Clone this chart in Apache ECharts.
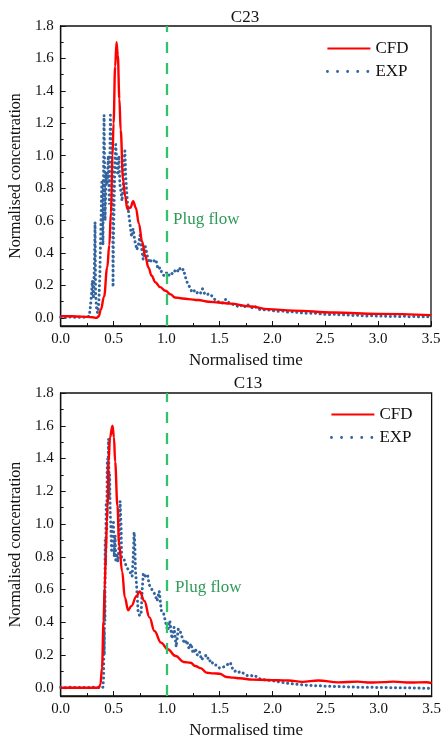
<!DOCTYPE html>
<html>
<head>
<meta charset="utf-8">
<script src="https://cdn.jsdelivr.net/npm/echarts@6/dist/echarts.min.js"></script>
<style>
  html, body { margin: 0; padding: 0; background: #fff; }
  #chart { width: 444px; height: 740px; }
</style>
</head>
<body>
<div id="chart"></div>
<script>
// tick values
var yMajor = [0, 0.2, 0.4, 0.6, 0.8, 1.0, 1.2, 1.4, 1.6, 1.8];
var yMinor = [0.1, 0.3, 0.5, 0.7, 0.9, 1.1, 1.3, 1.5, 1.7];
var plugFlow = 1.0;

// C23 - CFD
var cfdTimeC23 = [0, 0.1, 0.2, 0.3, 0.34, 0.36, 0.38, 0.41, 0.44, 0.46, 0.475, 0.49, 0.50, 0.515, 0.528, 0.54, 0.555, 0.567, 0.59, 0.61, 0.63, 0.66, 0.685, 0.71, 0.74, 0.77, 0.80, 0.83, 0.86, 0.894, 0.94, 0.99, 1.04, 1.08, 1.15, 1.21, 1.3, 1.4, 1.49, 1.6, 1.8, 1.96, 2.2, 2.58, 3.0, 3.5];
var cfdC23     = [0.01, 0.01, 0.008, 0.004, 0.0, 0.01, 0.05, 0.13, 0.31, 0.45, 0.65, 1.0, 1.2, 1.55, 1.70, 1.62, 1.35, 1.16, 0.85, 0.75, 0.67, 0.68, 0.72, 0.68, 0.58, 0.47, 0.38, 0.31, 0.26, 0.22, 0.19, 0.167, 0.145, 0.126, 0.12, 0.116, 0.11, 0.10, 0.095, 0.088, 0.07, 0.054, 0.045, 0.033, 0.025, 0.017];

// C23 - EXP
var expTimeC23 = [0.00, 0.05, 0.10, 0.15, 0.20, 0.24, 0.27, 0.28, 0.29, 0.30, 0.31, 0.32, 0.325, 0.33, 0.335, 0.34, 0.35, 0.36, 0.37, 0.38, 0.39, 0.40, 0.41, 0.415, 0.42, 0.43, 0.44, 0.45, 0.46, 0.47, 0.48, 0.49, 0.495, 0.50, 0.51, 0.52, 0.53, 0.54, 0.55, 0.56, 0.57, 0.58, 0.59, 0.60, 0.607, 0.615, 0.63, 0.64, 0.655, 0.67, 0.685, 0.70, 0.72, 0.735, 0.75, 0.765, 0.78, 0.79, 0.80, 0.82, 0.84, 0.86, 0.88, 0.90, 0.92, 0.94, 0.96, 0.98, 1.00, 1.02, 1.04, 1.06, 1.08, 1.10, 1.12, 1.14, 1.16, 1.18, 1.20, 1.22, 1.24, 1.26, 1.28, 1.30, 1.32, 1.34, 1.36, 1.38, 1.40, 1.42, 1.44, 1.46, 1.48, 1.50, 1.52, 1.54, 1.56, 1.58, 1.60, 1.62, 1.64, 1.66, 1.68, 1.70, 1.72, 1.74, 1.76, 1.78, 1.80, 1.82, 1.84, 1.86, 1.90, 1.95, 2.00, 2.05, 2.10, 2.15, 2.20, 2.25, 2.30, 2.35, 2.40, 2.45, 2.50, 2.55, 2.60, 2.65, 2.70, 2.75, 2.80, 2.85, 2.90, 2.95, 3.00, 3.05, 3.10, 3.15, 3.20, 3.25, 3.30, 3.35, 3.40, 3.45, 3.50];
var expC23     = [0.005, 0.002, 0.007, 0.002, 0.006, 0.003, 0.01, 0.06, 0.13, 0.23, 0.12, 0.35, 0.59, 0.15, 0.10, 0.05, 0.03, 0.08, 0.25, 0.55, 0.85, 0.45, 1.25, 0.95, 0.60, 0.90, 0.82, 1.00, 0.70, 1.25, 1.00, 0.92, 0.19, 0.52, 0.85, 1.07, 0.98, 0.88, 1.00, 0.82, 0.78, 0.72, 0.80, 0.97, 1.03, 0.87, 0.72, 0.66, 0.58, 0.50, 0.55, 0.48, 0.42, 0.45, 0.51, 0.43, 0.36, 0.40, 0.44, 0.38, 0.34, 0.36, 0.35, 0.36, 0.30, 0.31, 0.27, 0.26, 0.28, 0.26, 0.28, 0.27, 0.29, 0.28, 0.31, 0.29, 0.30, 0.25, 0.21, 0.19, 0.16, 0.17, 0.15, 0.16, 0.15, 0.18, 0.15, 0.14, 0.15, 0.14, 0.13, 0.11, 0.10, 0.10, 0.09, 0.095, 0.115, 0.10, 0.09, 0.085, 0.08, 0.075, 0.07, 0.08, 0.065, 0.07, 0.085, 0.075, 0.065, 0.06, 0.07, 0.055, 0.05, 0.05, 0.045, 0.04, 0.042, 0.035, 0.038, 0.032, 0.03, 0.028, 0.03, 0.025, 0.022, 0.02, 0.023, 0.018, 0.02, 0.015, 0.017, 0.013, 0.012, 0.014, 0.01, 0.012, 0.009, 0.01, 0.008, 0.01, 0.007, 0.009, 0.006, 0.008, 0.006];

// C13 - CFD
var cfdTimeC13 = [0, 0.1, 0.2, 0.3, 0.36, 0.375, 0.39, 0.405, 0.415, 0.427, 0.436, 0.443, 0.452, 0.466, 0.489, 0.503, 0.514, 0.536, 0.551, 0.58, 0.606, 0.637, 0.668, 0.715, 0.746, 0.79, 0.838, 0.885, 0.947, 1.01, 1.086, 1.16, 1.226, 1.27, 1.32, 1.38, 1.44, 1.50, 1.566, 1.63, 1.69, 1.81, 1.94, 2.05, 2.15, 2.28, 2.43, 2.62, 2.80, 2.92, 3.05, 3.14, 3.30, 3.45, 3.5];
var cfdC13     = [0.0, 0.0, 0.0, 0.0, 0.0, 0.02, 0.12, 0.41, 0.61, 0.82, 1.02, 1.11, 1.38, 1.53, 1.60, 1.53, 1.38, 1.11, 0.88, 0.71, 0.55, 0.474, 0.50, 0.56, 0.588, 0.53, 0.43, 0.347, 0.276, 0.235, 0.194, 0.158, 0.153, 0.133, 0.12, 0.092, 0.088, 0.086, 0.066, 0.062, 0.058, 0.05, 0.048, 0.046, 0.045, 0.036, 0.045, 0.033, 0.038, 0.032, 0.035, 0.038, 0.032, 0.034, 0.028];

// C13 - EXP
var expTimeC13 = [0.00, 0.05, 0.10, 0.15, 0.20, 0.25, 0.30, 0.35, 0.40, 0.405, 0.41, 0.412, 0.415, 0.418, 0.42, 0.425, 0.43, 0.435, 0.44, 0.445, 0.452, 0.458, 0.462, 0.467, 0.475, 0.48, 0.49, 0.498, 0.505, 0.514, 0.52, 0.53, 0.54, 0.55, 0.561, 0.565, 0.57, 0.575, 0.585, 0.60, 0.62, 0.64, 0.66, 0.675, 0.685, 0.693, 0.70, 0.705, 0.715, 0.73, 0.745, 0.76, 0.77, 0.78, 0.80, 0.82, 0.835, 0.85, 0.87, 0.89, 0.91, 0.93, 0.95, 0.97, 0.99, 1.01, 1.03, 1.05, 1.07, 1.09, 1.11, 1.13, 1.15, 1.17, 1.19, 1.21, 1.23, 1.25, 1.27, 1.29, 1.31, 1.33, 1.35, 1.38, 1.40, 1.42, 1.44, 1.47, 1.50, 1.52, 1.55, 1.58, 1.60, 1.62, 1.64, 1.66, 1.68, 1.70, 1.72, 1.74, 1.76, 1.78, 1.80, 1.82, 1.84, 1.86, 1.88, 1.91, 1.94, 1.97, 2.00, 2.04, 2.08, 2.12, 2.16, 2.20, 2.25, 2.30, 2.35, 2.40, 2.45, 2.50, 2.55, 2.60, 2.70, 2.80, 2.90, 3.00, 3.10, 3.20, 3.30, 3.40, 3.50];
var expC13     = [0.003, 0.0, 0.004, 0.001, 0.003, 0.0, 0.004, 0.001, 0.004, 0.06, 0.35, 0.20, 0.60, 0.41, 0.90, 0.75, 1.13, 0.97, 1.40, 1.29, 1.52, 1.15, 1.30, 1.08, 0.95, 0.84, 0.98, 1.01, 0.80, 0.93, 0.78, 0.82, 0.77, 0.85, 1.14, 1.06, 0.99, 0.79, 0.80, 0.78, 0.74, 0.72, 0.70, 0.68, 0.80, 0.95, 0.88, 0.72, 0.64, 0.47, 0.44, 0.46, 0.60, 0.70, 0.68, 0.69, 0.63, 0.62, 0.59, 0.57, 0.53, 0.59, 0.47, 0.46, 0.40, 0.35, 0.41, 0.30, 0.37, 0.25, 0.36, 0.34, 0.30, 0.27, 0.29, 0.24, 0.27, 0.21, 0.24, 0.20, 0.22, 0.17, 0.19, 0.20, 0.16, 0.17, 0.14, 0.14, 0.12, 0.125, 0.13, 0.145, 0.155, 0.12, 0.10, 0.105, 0.095, 0.10, 0.09, 0.085, 0.075, 0.072, 0.075, 0.068, 0.072, 0.06, 0.055, 0.05, 0.048, 0.045, 0.044, 0.038, 0.034, 0.031, 0.026, 0.024, 0.02, 0.017, 0.015, 0.013, 0.012, 0.01, 0.009, 0.008, 0.006, 0.004, 0.004, 0.002, 0.001, 0.0, 0.0, -0.002, -0.003];

function zip(xs, ys) {
    var out = [];
    for (var i = 0; i < xs.length; i++) out.push([xs[i], ys[i]]);
    return out;
}

var FONT = 'Liberation Serif';
var RED = '#ff0000';
var BLUE = '#32649f';
var GREEN = '#34c16c';

var myChart = echarts.init(document.getElementById('chart'));

function xAxisFor(gi) {
    return {
        gridIndex: gi, type: 'value', min: 0, max: 3.5, interval: 0.5,
        name: 'Normalised time', nameLocation: 'middle', nameGap: 26,
        nameTextStyle: { fontFamily: FONT, fontSize: 17, color: '#111' },
        axisLine: { onZero: false, lineStyle: { color: '#111', width: 1.3 } },
        axisTick: { inside: true, length: 5, lineStyle: { color: '#111', width: 1 } },
        minorTick: { show: true, splitNumber: 2, length: 3, lineStyle: { color: '#111', width: 1 } },
        axisLabel: { margin: 6, fontFamily: FONT, fontSize: 15, color: '#111',
            formatter: function (v) { return v.toFixed(1); } },
        splitLine: { show: false }
    };
}

function yAxesFor(gi) {
    return [{
        gridIndex: gi, type: 'value', min: -0.05, max: 1.8, position: 'left',
        name: 'Normalised concentration', nameLocation: 'middle', nameGap: 28,
        nameTextStyle: { fontFamily: FONT, fontSize: 16, color: '#111' },
        axisLine: { show: true, onZero: false, lineStyle: { color: '#111', width: 1.3 } },
        axisTick: { inside: true, length: 5, customValues: yMajor, lineStyle: { color: '#111', width: 1 } },
        axisLabel: { margin: 7, customValues: yMajor, fontFamily: FONT, fontSize: 15, color: '#111',
            formatter: function (v) { return v.toFixed(1); } },
        splitLine: { show: false }
    }, {
        gridIndex: gi, type: 'value', min: -0.05, max: 1.8, position: 'left',
        axisLine: { show: false },
        axisTick: { inside: true, length: 3, customValues: yMinor, lineStyle: { color: '#111', width: 1 } },
        axisLabel: { show: false },
        splitLine: { show: false }
    }];
}

function cfdSeries(idx, data) {
    return {
        name: 'CFD', type: 'line', xAxisIndex: idx, yAxisIndex: idx * 2,
        data: data, symbol: 'none', smooth: 0.4, smoothMonotone: 'x', z: 3,
        lineStyle: { color: RED, width: 2.4 }, itemStyle: { color: RED },
        markLine: {
            silent: true, symbol: 'none', label: { show: false },
            lineStyle: { color: GREEN, type: [11, 10], width: 2.3 },
            data: [{ xAxis: plugFlow }]
        }
    };
}

function expSeries(idx, data) {
    return {
        name: 'EXP', type: 'line', xAxisIndex: idx, yAxisIndex: idx * 2,
        data: data, symbol: 'none', z: 2,
        lineStyle: { color: BLUE, width: 3, type: [0.1, 4.6], cap: 'round' },
        itemStyle: { color: BLUE }
    };
}

function legendFor(left, top) {
    return {
        orient: 'vertical', left: left, top: top, itemWidth: 43, itemHeight: 14, itemGap: 6,
        textStyle: { fontFamily: FONT, fontSize: 17, color: '#111' },
        itemStyle: { color: 'rgba(0,0,0,0)', borderWidth: 0 },
        data: [
            { name: 'CFD' },
            { name: 'EXP', lineStyle: { color: BLUE, width: 2.8, type: [0.1, 10], cap: 'round' } }
        ]
    };
}

var option = {
    backgroundColor: '#fff',
    animation: false,
    title: [
        { text: 'C23', left: 240, top: 4, textAlign: 'center',
          textStyle: { fontFamily: FONT, fontSize: 17, fontWeight: 'normal', color: '#111' } },
        { text: 'C13', left: 243, top: 370, textAlign: 'center',
          textStyle: { fontFamily: FONT, fontSize: 17, fontWeight: 'normal', color: '#111' } }
    ],
    legend: [legendFor(321, 35), legendFor(325, 401)],
    grid: [
        { left: 58, top: 26, width: 373, height: 300, show: true, borderColor: '#111', borderWidth: 1.3 },
        { left: 58, top: 393, width: 377, height: 303, show: true, borderColor: '#111', borderWidth: 1.3 }
    ],
    xAxis: [xAxisFor(0), xAxisFor(1)],
    yAxis: yAxesFor(0).concat(yAxesFor(1)),
    graphic: [
        { type: 'text', left: 173, top: 211,
          style: { text: 'Plug flow', fill: '#2f9a58', font: '17px "Liberation Serif"' } },
        { type: 'text', left: 175, top: 579,
          style: { text: 'Plug flow', fill: '#2f9a58', font: '17px "Liberation Serif"' } }
    ],
    series: [
        expSeries(0, zip(expTimeC23, expC23)),
        cfdSeries(0, zip(cfdTimeC23, cfdC23)),
        expSeries(1, zip(expTimeC13, expC13)),
        cfdSeries(1, zip(cfdTimeC13, cfdC13))
    ]
};

myChart.setOption(option);
</script>
</body>
</html>
